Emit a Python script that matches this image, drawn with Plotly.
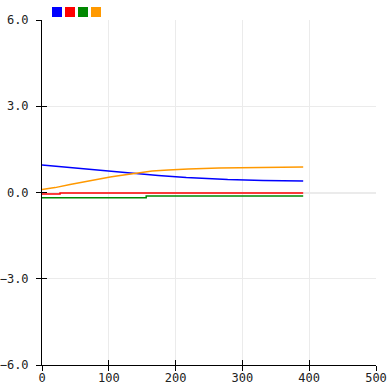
import plotly.graph_objects as go

blue_x = [0, 27, 52, 84, 112, 142, 174, 216, 278, 331, 391]
blue_y = [0.96, 0.90, 0.85, 0.78, 0.73, 0.66, 0.59, 0.52, 0.45, 0.42, 0.40]

red_x = [0, 27, 391]
red_y = [-0.05, -0.02, -0.02]

green_x = [0, 156, 391]
green_y = [-0.18, -0.12, -0.12]

orange_x = [0, 19.5, 42, 64, 87, 102, 117, 132, 147, 165, 189, 219, 265, 371, 391]
orange_y = [0.10, 0.17, 0.28, 0.38, 0.47, 0.54, 0.59, 0.64, 0.70, 0.75, 0.78, 0.82, 0.85, 0.89, 0.89]

x_ticks = [0, 100, 200, 300, 400, 500]
y_ticks = [-6, -3, 0, 3, 6]

series = [
    (blue_x, blue_y, "blue", "linear"),
    (red_x, red_y, "red", "hv"),
    (green_x, green_y, "green", "hv"),
    (orange_x, orange_y, "orange", "linear"),
]
legend_colors = ["#0000ff", "#ff0000", "#008800", "#ff9900"]
line_colors = {"blue": "#0000ff", "red": "#ff0000", "green": "#008800", "orange": "#ff9900"}

fig = go.Figure()
for xs, ys, name, shape in series:
    fig.add_trace(go.Scatter(x=xs, y=ys, mode="lines", name=name,
                             line=dict(color=line_colors[name], width=1.5, shape=shape),
                             showlegend=False))

font = dict(family="DejaVu Sans Mono", size=12, color="#222")
common = dict(showline=True, linecolor="black", linewidth=1, ticks="outside",
              ticklen=5, tickcolor="black", gridcolor="#ebebeb", zeroline=True,
              zerolinecolor="#ebebeb", tickfont=font, automargin=False)
fig.update_xaxes(range=[0, 500], tickvals=x_ticks, ticklabelstandoff=-3, **common)
fig.update_yaxes(range=[-6, 6], tickvals=y_ticks, tickformat=".1f",
                 ticklabelstandoff=5, **common)

# inside halves of the crossing ticks
fig.update_layout(
    xaxis2=dict(overlaying="x", range=[0, 500], tickvals=x_ticks, ticks="inside",
                ticklen=5, tickcolor="black", showticklabels=False, showgrid=False,
                zeroline=False, side="bottom", automargin=False),
    yaxis2=dict(overlaying="y", range=[-6, 6], tickvals=y_ticks, ticks="inside",
                ticklen=5, tickcolor="black", showticklabels=False, showgrid=False,
                zeroline=False, side="left", automargin=False),
)
fig.add_trace(go.Scatter(x=[None], y=[None], xaxis="x2", yaxis="y2", showlegend=False))

shapes = []
for i, c in enumerate(legend_colors):
    x0 = 52 + i * 13
    shapes.append(dict(type="rect", xref="paper", yref="paper",
                       x0=(x0 - 42) / 334, x1=(x0 + 10 - 42) / 334,
                       y0=(365 - 17) / 345, y1=(365 - 7) / 345,
                       fillcolor=c, line=dict(width=0)))

fig.update_layout(width=390, height=390, margin=dict(l=42, r=14, t=20, b=25),
                  plot_bgcolor="white", paper_bgcolor="white", shapes=shapes,
                  showlegend=False)

fig.write_html("out.html", config={"displayModeBar": False},
               post_script="document.body.style.margin='0';document.body.style.overflow='hidden';")
